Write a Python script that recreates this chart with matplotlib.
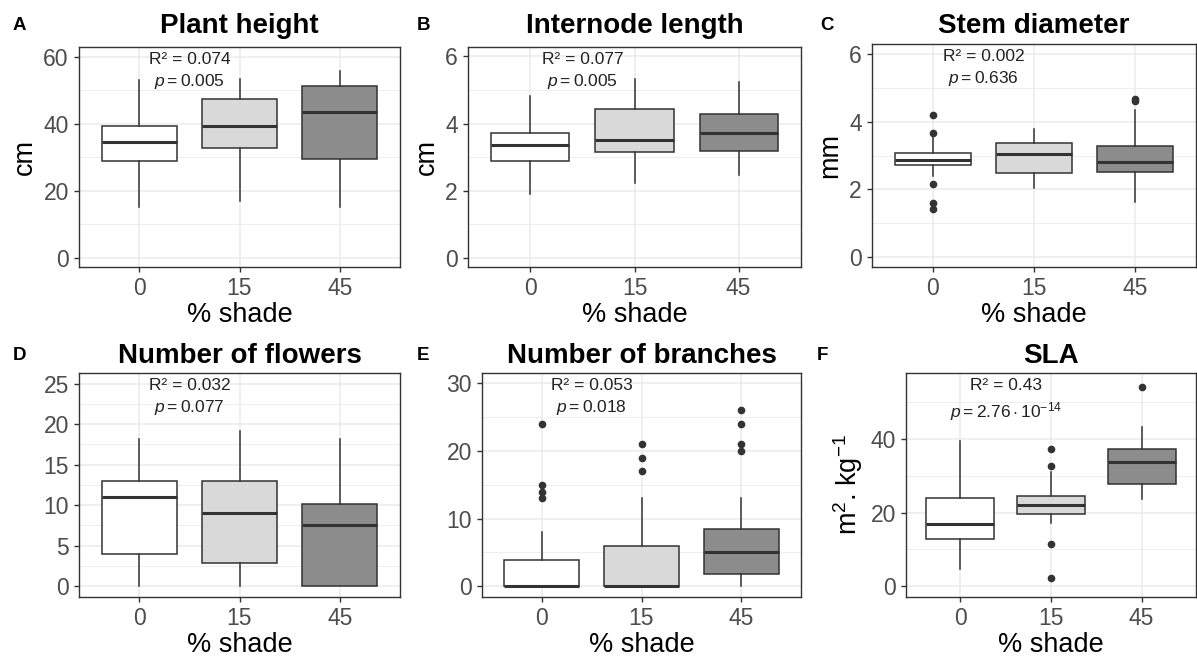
import matplotlib.pyplot as plt
import matplotlib.transforms as mtransforms

plt.rcParams['font.family'] = ['Liberation Sans', 'DejaVu Sans']
plt.rcParams['mathtext.fontset'] = 'custom'
plt.rcParams['mathtext.rm'] = 'Liberation Sans'
plt.rcParams['mathtext.it'] = 'Liberation Sans:italic'

shade = ['0', '15', '45']
fills = ['#FFFFFF', '#D9D9D9', '#8C8C8C']

# per shade level: lower whisker, Q1, median, Q3, upper whisker
height_stats = [[15.2, 28.8, 34.6, 39.4, 53.0], [16.9, 32.7, 39.2, 47.5, 53.3], [15.2, 29.6, 43.5, 51.3, 55.8]]
height_out = [[], [], []]
internode_stats = [[1.90, 2.88, 3.35, 3.73, 4.81], [2.22, 3.15, 3.50, 4.44, 5.33], [2.47, 3.19, 3.71, 4.28, 5.23]]
internode_out = [[], [], []]
stem_stats = [[2.40, 2.72, 2.88, 3.06, 3.62], [2.04, 2.48, 3.05, 3.36, 3.78], [1.63, 2.52, 2.81, 3.28, 4.36]]
stem_out = [[4.19, 3.66, 2.17, 1.60, 1.43], [], [4.62, 4.68]]
flowers_stats = [[0, 3.96, 11.06, 13.0, 18.2], [0, 2.93, 9.03, 13.0, 19.1], [0, 0, 7.55, 10.2, 18.2]]
flowers_out = [[], [], []]
branches_stats = [[0, 0, 0, 3.85, 8], [0, 0, 0, 5.92, 13], [0, 1.87, 5.03, 8.39, 13]]
branches_out = [[24, 15, 14, 13], [21, 19, 17], [26, 24, 21, 20]]
sla_stats = [[4.7, 12.8, 17.0, 24.1, 39.4], [17.1, 19.7, 22.1, 24.5, 31.0], [23.8, 27.7, 33.7, 37.2, 43.3]]
sla_out = [[], [37.2, 32.6, 11.6, 2.3], [54.2]]

r2_labels = ['R² = 0.074', 'R² = 0.077', 'R² = 0.002', 'R² = 0.032', 'R² = 0.053', 'R² = 0.43']
p_labels = [r'$\mathit{p} = 0.005$', r'$\mathit{p} = 0.005$', r'$\mathit{p} = 0.636$',
            r'$\mathit{p} = 0.077$', r'$\mathit{p} = 0.018$', r'$\mathit{p} = 2.76\cdot10^{-14}$']

W, H = 1197, 656
fig = plt.figure(figsize=(W / 100, H / 100), dpi=100)

def px_rect(x0, x1, y0, y1):
    return [x0 / W, 1 - y1 / H, (x1 - x0) / W, (y1 - y0) / H]

panels = [
    ('A', 'Plant height', 'cm', height_stats, height_out, (-2.8, 62.9), [0, 20, 40, 60], px_rect(79, 400, 47, 267), 13, 0.945, 0.845),
    ('B', 'Internode length', 'cm', internode_stats, internode_out, (-0.27, 6.28), [0, 2, 4, 6], px_rect(468, 801, 47, 267), 417, 0.945, 0.845),
    ('C', 'Stem diameter', 'mm', stem_stats, stem_out, (-0.30, 6.30), [0, 2, 4, 6], px_rect(872, 1196, 44, 267), 820, 0.945, 0.845),
    ('D', 'Number of flowers', '', flowers_stats, flowers_out, (-1.32, 26.3), [0, 5, 10, 15, 20, 25], px_rect(79, 400, 373, 597), 13, 0.945, 0.845),
    ('E', 'Number of branches', '', branches_stats, branches_out, (-1.58, 31.5), [0, 10, 20, 30], px_rect(482, 801, 373, 597), 417, 0.945, 0.845),
    ('F', 'SLA', r'm$^{2}$. kg$^{-1}$', sla_stats, sla_out, (-2.9, 57.9), [0, 20, 40], px_rect(906, 1196, 373, 597), 817, 0.946, 0.83),
]
minor_step = {'A': 10, 'B': 1, 'C': 1, 'D': 2.5, 'E': 5, 'F': 10}

for i, (tag, title, ylab, stats, outs, ylim, yticks, rect, tagx, r2y, py) in enumerate(panels):
    ax = fig.add_axes(rect)
    ax.set_axisbelow(True)
    bstats = []
    for s, o in zip(stats, outs):
        bstats.append({'whislo': s[0], 'q1': s[1], 'med': s[2], 'q3': s[3], 'whishi': s[4], 'fliers': o})
    bp = ax.bxp(bstats, positions=[1, 2, 3], widths=0.75, patch_artist=True, showcaps=False,
                boxprops=dict(edgecolor='#333333', linewidth=1.1),
                whiskerprops=dict(color='#333333', linewidth=1.1),
                medianprops=dict(color='#333333', linewidth=2.2),
                flierprops=dict(marker='o', markerfacecolor='#333333', markeredgecolor='#333333', markersize=4.5))
    for patch, c in zip(bp['boxes'], fills):
        patch.set_facecolor(c)
    ax.set_xlim(0.4, 3.6)
    ax.set_ylim(*ylim)
    ax.set_xticks([1, 2, 3])
    ax.set_xticklabels(shade)
    ax.set_yticks(yticks)
    step = minor_step[tag]
    minors = [v + step for v in yticks if ylim[0] < v + step < ylim[1] and v + step not in yticks]
    ax.set_yticks(minors, minor=True)
    ax.grid(True, which='major', color='#EBEBEB', linewidth=1.1)
    ax.grid(True, which='minor', axis='y', color='#EBEBEB', linewidth=0.6)
    ax.tick_params(which='major', length=3.8, width=1.0, color='#333333', labelsize=16.5, labelcolor='#4D4D4D')
    ax.tick_params(which='minor', length=0)
    for sp in ax.spines.values():
        sp.set_color('#333333')
        sp.set_linewidth(1.0)
    ax.set_xlabel('% shade', fontsize=19.5, labelpad=1)
    ax.set_ylabel(ylab, fontsize=19.5, labelpad=4)

    tr = mtransforms.blended_transform_factory(ax.transData, ax.transAxes)
    ax.text(1.5, r2y, r2_labels[i], transform=tr, ha='center', va='center', fontsize=12.5, color='#222222')
    ax.text(1.5, py, p_labels[i], transform=tr, ha='center', va='center', fontsize=12.5, color='#222222')

    cx = rect[0] + rect[2] / 2
    row_base = 33 if i < 3 else 363
    fig.text(cx, 1 - row_base / H, title, ha='center', va='baseline', fontsize=20, fontweight='bold')
    tag_base = 30 if i < 3 else 360
    fig.text(tagx / W, 1 - tag_base / H, tag, ha='left', va='baseline', fontsize=13.5, fontweight='bold')

fig.savefig('out.png', dpi=100)
